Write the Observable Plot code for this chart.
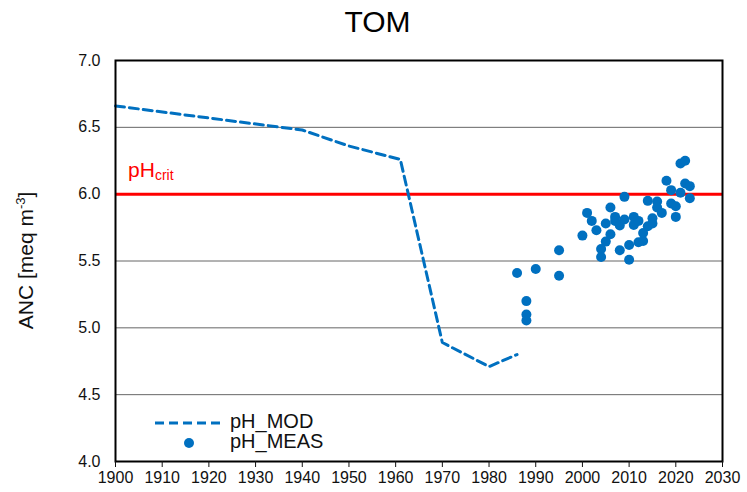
<!DOCTYPE html>
<html><head><meta charset="utf-8">
<script src="https://cdn.jsdelivr.net/npm/d3@7"></script>
<script src="https://cdn.jsdelivr.net/npm/@observablehq/plot@0.6"></script>
<style>
body{margin:0;background:#fff;font-family:Arial,"Liberation Sans",sans-serif;}
#wrap{position:relative;width:747px;height:492px;}
#title{position:absolute;top:7px;left:0;width:755px;text-align:center;font-size:30px;line-height:1;color:#000;z-index:2;}
#wrap svg{position:absolute;left:0;top:0;}
</style></head><body><div id="wrap"><div id="title">TOM</div></div>
<script>
const title = "TOM";
const modYears  = [1900, 1940, 1950, 1961, 1970, 1980, 1986];
const modValues = [6.66, 6.48, 6.36, 6.26, 4.89, 4.71, 4.80];
const measYears  = [1986,1988,1988,1988,1990,1995,1995,2000,2001,2002,2003,2004,2004,2005,2005,2006,2006,2007,2007,2008,2008,2009,2009,2010,2010,2011,2011,2012,2012,2013,2013,2014,2014,2015,2015,2016,2016,2017,2018,2019,2019,2020,2020,2021,2021,2022,2022,2023,2023];
const measValues = [5.41,5.20,5.10,5.055,5.44,5.39,5.58,5.69,5.86,5.80,5.73,5.59,5.53,5.645,5.78,5.90,5.70,5.83,5.80,5.765,5.58,5.98,5.81,5.62,5.51,5.83,5.77,5.80,5.64,5.65,5.71,5.76,5.95,5.82,5.78,5.945,5.90,5.86,6.10,6.03,5.93,5.91,5.83,6.01,6.23,6.25,6.08,6.06,5.97];
const critValue = 6.0;
const gridValues = [4.5, 5.0, 5.5, 6.5];
const xTicks = [1900,1910,1920,1930,1940,1950,1960,1970,1980,1990,2000,2010,2020,2030];
const yTicks = [4.0,4.5,5.0,5.5,6.0,6.5,7.0];
const seriesNames = ["pH_MOD", "pH_MEAS"];
const blue = "#0070C0";

const mod = modYears.map((x, i) => ({x, y: modValues[i]}));
const meas = measYears.map((x, i) => ({x, y: measValues[i]}));

const plot = Plot.plot({
  width: 747, height: 492,
  marginLeft: 115, marginRight: 25, marginTop: 60, marginBottom: 31,
  style: {fontFamily: "Arial, 'Liberation Sans', sans-serif", fontSize: "16px", color: "#111", background: "transparent"},
  x: {domain: [1900, 2030]},
  y: {domain: [4, 7]},
  marks: [
    Plot.ruleY(gridValues, {stroke: "#666", strokeWidth: 1}),
    Plot.ruleY([critValue], {stroke: "#FF0000", strokeWidth: 3}),
    Plot.line(mod, {x: "x", y: "y", stroke: blue, strokeWidth: 3, strokeDasharray: "9,5"}),
    Plot.dot(meas, {x: "x", y: "y", r: 5, fill: blue, stroke: "none"}),
    Plot.frame({stroke: "#000", strokeWidth: 2}),
    Plot.axisX({ticks: xTicks, tickFormat: d => String(d), tickSize: 6, tickPadding: 4, fontSize: 16, label: null}),
    Plot.axisY({ticks: yTicks, tickFormat: d3.format(".1f"), tickSize: 0, tickPadding: 15, fontSize: 16, label: null})
  ]
});
document.getElementById("wrap").appendChild(plot);
document.getElementById("title").textContent = title;

const svg = d3.select(plot);
const sx = plot.scale("x"), sy = plot.scale("y");
// y label
const yl = svg.append("text")
  .attr("transform", `translate(33,${(sy.apply(7) + sy.apply(4)) / 2}) rotate(-90)`)
  .attr("text-anchor", "middle").attr("font-size", 21).attr("fill", "#111");
yl.append("tspan").text("ANC [meq m");
yl.append("tspan").attr("font-size", 13).attr("dy", -8).text("-3");
yl.append("tspan").attr("dy", 8).text("]");
// pH crit label
const cl = svg.append("text")
  .attr("x", sx.apply(1902.8)).attr("y", sy.apply(critValue) - 17)
  .attr("text-anchor", "start").attr("font-size", 21).attr("fill", "#FF0000");
cl.append("tspan").text("pH");
cl.append("tspan").attr("font-size", 14).attr("dy", 3).text("crit");
// legend
const lg = svg.append("g");
lg.append("line").attr("x1", 155).attr("x2", 222).attr("y1", 423).attr("y2", 423)
  .attr("stroke", blue).attr("stroke-width", 3).attr("stroke-dasharray", "9,5");
lg.append("circle").attr("cx", 189).attr("cy", 443).attr("r", 5).attr("fill", blue);
lg.append("text").attr("x", 230).attr("y", 428).attr("text-anchor", "start").attr("font-size", 20).attr("fill", "#111").text(seriesNames[0]);
lg.append("text").attr("x", 230).attr("y", 448).attr("text-anchor", "start").attr("font-size", 20).attr("fill", "#111").text(seriesNames[1]);
</script></body></html>
